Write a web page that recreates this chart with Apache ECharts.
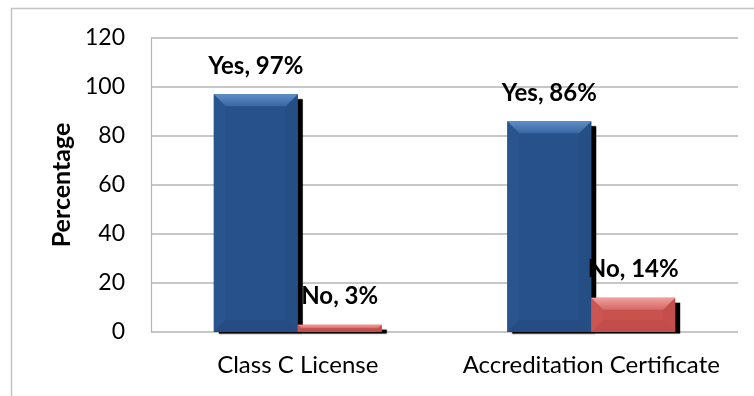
<!DOCTYPE html>
<html>
<head>
<meta charset="utf-8">
<script src="https://cdn.jsdelivr.net/npm/echarts@6/dist/echarts.min.js"></script>
<style>
  html, body { margin: 0; padding: 0; background: #fff; }
  #chart { width: 754px; height: 396px; }
</style>
</head>
<body>
<div id="chart"></div>
<script>
// Survey responses per credential, in percent
const categories = ['Class C License', 'Accreditation Certificate'];
const yesValues = [97, 86];
const noValues = [3, 14];
const yesName = 'Yes';
const noName = 'No';
const axisMin = 0;
const axisMax = 120;
const axisStep = 20;

const FONT = 'Lato, "Liberation Sans", Arial, sans-serif';

const palette = {
  yes: { face: '#27518a', top: ['#5f8ec8', '#3866a0'], left: '#29548d', right: '#254e85', bottom: '#254d84' },
  no:  { face: '#c9524f', top: ['#f0a09d', '#d66966'], left: '#cb5552', right: '#c44e4b', bottom: '#c24d4a' }
};

// Builds one bevelled bar with its drop shadow and value label.
function makeRenderer(side, name, colors) {
  return function (params, api) {
    const idx = api.value(0);
    const val = api.value(1);
    const base = api.coord([idx, 0]);
    const top = api.coord([idx, val]);
    const band = api.size([1, 0])[0];
    const w = band * 0.286;
    const x = side === 'left' ? base[0] - w : base[0];
    const y = top[1];
    const h = base[1] - top[1];
    const b = Math.min(12, h / 2, w / 2);
    return {
      type: 'group',
      children: [
        { type: 'rect', shape: { x: x + 5, y: y + 5, width: w, height: h - 3.5 },
          style: { fill: '#000', shadowBlur: 1.5, shadowColor: 'rgba(0,0,0,0.6)' } },
        { type: 'rect', shape: { x: x, y: y, width: w, height: h },
          style: { fill: colors.face } },
        { type: 'polygon', shape: { points: [[x, y], [x + b, y + b], [x + b, y + h - b], [x, y + h]] },
          style: { fill: colors.left } },
        { type: 'polygon', shape: { points: [[x + w, y], [x + w, y + h], [x + w - b, y + h - b], [x + w - b, y + b]] },
          style: { fill: colors.right } },
        { type: 'polygon', shape: { points: [[x, y + h], [x + w, y + h], [x + w - b, y + h - b], [x + b, y + h - b]] },
          style: { fill: colors.bottom } },
        { type: 'polygon', shape: { points: [[x, y], [x + w, y], [x + w - b, y + b], [x + b, y + b]] },
          style: { fill: new echarts.graphic.LinearGradient(0, 0, 0, 1, [
            { offset: 0, color: colors.top[0] }, { offset: 1, color: colors.top[1] }]) } },
        { type: 'text',
          style: { text: name + ', ' + val + '%', x: x + w / 2, y: y - 28,
            align: 'center', verticalAlign: 'middle',
            fontFamily: FONT, fontWeight: 'bold', fontSize: 24, fill: '#000' } }
      ]
    };
  };
}

const chart = echarts.init(document.getElementById('chart'), null, { renderer: 'canvas' });
chart.setOption({
  animation: false,
  backgroundColor: '#fff',
  graphic: [{
    type: 'rect', silent: true, z: -10,
    shape: { x: 11.5, y: 8.5, width: 800, height: 500 },
    style: { fill: 'none', stroke: '#c4c4c4', lineWidth: 1.5 }
  }],
  grid: { left: 151, right: 16, top: 38, bottom: 64 },
  xAxis: {
    type: 'category',
    data: categories,
    axisLine: { show: false },
    axisTick: { show: false },
    axisLabel: { interval: 0, margin: 21, fontFamily: FONT, fontSize: 24, color: '#000' }
  },
  yAxis: {
    type: 'value',
    min: axisMin, max: axisMax, interval: axisStep,
    name: 'Percentage',
    nameLocation: 'middle',
    nameGap: 75,
    nameRotate: 90,
    nameTextStyle: { fontFamily: FONT, fontWeight: 'bold', fontSize: 25, color: '#000' },
    axisLine: { show: true, lineStyle: { color: '#b4b4b4', width: 1.2 } },
    axisTick: { show: false },
    axisLabel: { margin: 26, fontFamily: FONT, fontSize: 23, color: '#000' },
    splitLine: { show: true, lineStyle: { color: '#b4b4b4', width: 1.5 } }
  },
  series: [
    {
      type: 'custom', name: yesName, clip: false,
      encode: { x: 0, y: 1 },
      data: yesValues.map((v, i) => [i, v]),
      renderItem: makeRenderer('left', yesName, palette.yes)
    },
    {
      type: 'custom', name: noName, clip: false,
      encode: { x: 0, y: 1 },
      data: noValues.map((v, i) => [i, v]),
      renderItem: makeRenderer('right', noName, palette.no)
    }
  ]
});
</script>
</body>
</html>
